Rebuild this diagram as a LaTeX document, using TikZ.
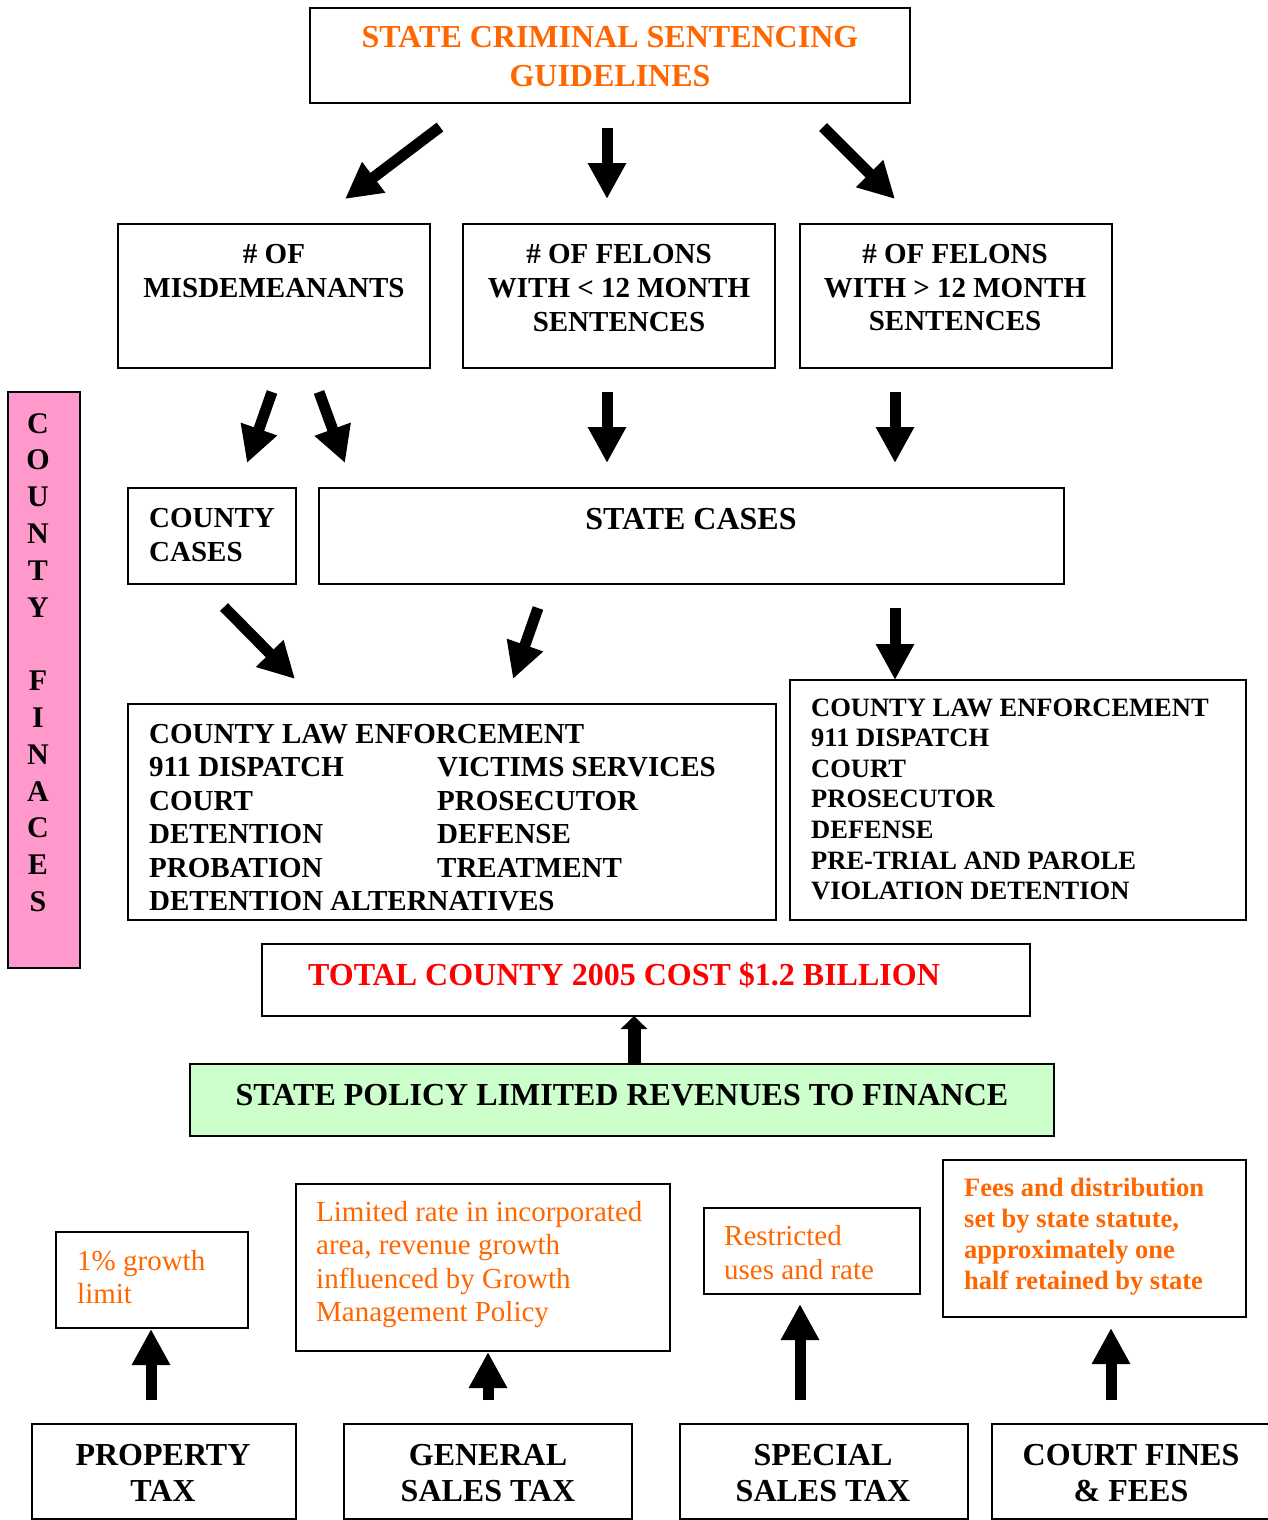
\documentclass[tikz,border=0pt]{standalone}
\usepackage{fontspec}
\setmainfont{Liberation Serif}
\usetikzlibrary{arrows.meta}
\definecolor{orng}{HTML}{FF6600}
\definecolor{pinkbar}{HTML}{FF99CC}
\definecolor{lgreen}{HTML}{CCFFCC}
\definecolor{redtxt}{HTML}{FF0000}
\begin{document}
\begin{tikzpicture}[x=1pt,y=-1pt,
  box/.style={draw, line width=2pt, anchor=north west, inner sep=0pt, outer sep=0pt},
  tb/.style={font=\fontsize{29}{34}\selectfont\bfseries, inner sep=0pt, anchor=base},
  tbl/.style={tb, anchor=base west},
  tB/.style={font=\fontsize{32}{38}\selectfont\bfseries, inner sep=0pt, anchor=base},
  tp/.style={font=\fontsize{30}{36}\selectfont\bfseries, inner sep=0pt, anchor=base},
  ts/.style={font=\fontsize{26.5}{31}\selectfont\bfseries, inner sep=0pt, anchor=base west},
  tr/.style={font=\fontsize{29}{34}\selectfont, text=orng, inner sep=0pt, anchor=base west},
  fat/.style={line width=11pt, -{Triangle[length=36pt,width=36pt]}},
  small/.style={line width=13pt, -{Triangle[length=13pt,width=26pt]}},
]
\useasboundingbox (0,0) rectangle (1268,1520);

% ---------- boxes ----------
\node[box, minimum width=600pt, minimum height=95pt] (top) at (310,8) {};
\node[box, minimum width=312pt, minimum height=144pt] (misd) at (118,224) {};
\node[box, minimum width=312pt, minimum height=144pt] (fel1) at (463,224) {};
\node[box, minimum width=312pt, minimum height=144pt] (fel2) at (800,224) {};
\node[box, fill=pinkbar, minimum width=72pt, minimum height=576pt] (pink) at (8,392) {};
\node[box, minimum width=168pt, minimum height=96pt] (cc) at (128,488) {};
\node[box, minimum width=745pt, minimum height=96pt] (sc) at (319,488) {};
\node[box, minimum width=648pt, minimum height=216pt] (lbox) at (128,704) {};
\node[box, minimum width=456pt, minimum height=240pt] (rbox) at (790,680) {};
\node[box, minimum width=768pt, minimum height=72pt] (total) at (262,944) {};
\node[box, fill=lgreen, minimum width=864pt, minimum height=72pt] (green) at (190,1064) {};
\node[box, minimum width=192pt, minimum height=96pt] (o1) at (56,1232) {};
\node[box, minimum width=374pt, minimum height=167pt] (o2) at (296,1184) {};
\node[box, minimum width=216pt, minimum height=86pt] (o3) at (704,1208) {};
\node[box, minimum width=303pt, minimum height=157pt] (o4) at (943,1160) {};
\node[box, minimum width=264pt, minimum height=95pt] (b1) at (32,1424) {};
\node[box, minimum width=288pt, minimum height=95pt] (b2) at (344,1424) {};
\node[box, minimum width=288pt, minimum height=95pt] (b3) at (680,1424) {};
\node[box, minimum width=283pt, minimum height=95pt] (b4) at (992,1424) {};

% ---------- texts ----------
\node[tB, text=orng] (t1) at (610,48) {STATE CRIMINAL SENTENCING};
\node[tB, text=orng] (t2) at (610,86) {GUIDELINES};

\node[tb] (ms1) at (274,263) {\# OF};
\node[tb] (ms2) at (274,297) {MISDEMEANANTS};

\node[tb] (fa1) at (619,263) {\# OF FELONS};
\node[tb] (fa2) at (619,297) {WITH < 12 MONTH};
\node[tb] (fa3) at (619,331) {SENTENCES};

\node[tb] (fb1) at (955,263) {\# OF FELONS};
\node[tb] (fb2) at (955,297) {WITH > 12 MONTH};
\node[tb] (fb3) at (955,330) {SENTENCES};

\foreach \l [count=\i from 0] in {C,O,U,N,T,Y,,F,I,N,A,C,E,S}
  \node[tp] (cf\i) at (38,{433+\i*36.8}) {\l};

\node[tbl] (cc1) at (149,527) {COUNTY};
\node[tbl] (cc2) at (149,561) {CASES};
\node[tB] (sc1) at (691,529) {STATE CASES};

\foreach \t [count=\i from 0] in {COUNTY LAW ENFORCEMENT,911 DISPATCH,COURT,DETENTION,PROBATION,DETENTION ALTERNATIVES}
  \node[tbl] (l\i) at (149,{743+\i*33.5}) {\t};
\foreach \t [count=\i from 1] in {VICTIMS SERVICES,PROSECUTOR,DEFENSE,TREATMENT}
  \node[tbl] (m\i) at (437,{743+\i*33.5}) {\t};

\foreach \t [count=\i from 0] in {COUNTY LAW ENFORCEMENT,911 DISPATCH,COURT,PROSECUTOR,DEFENSE,PRE-TRIAL AND PAROLE,VIOLATION DETENTION}
  \node[ts] (r\i) at (811,{716+\i*30.6}) {\t};

\node[tB, text=redtxt] (tt) at (624,985) {TOTAL COUNTY 2005 COST \$1.2 BILLION};
\node[tB] (gt) at (622,1105) {STATE POLICY LIMITED REVENUES TO FINANCE};

\node[tr] (p1) at (77,1270) {1\% growth};
\node[tr] (p2) at (77,1303) {limit};
\foreach \t [count=\i from 0] in {Limited rate in incorporated,{area, revenue growth},influenced by Growth,Management Policy}
  \node[tr] (g\i) at (316,{1221+\i*33.6}) {\t};
\node[tr] (s1) at (724,1245) {Restricted};
\node[tr] (s2) at (724,1279) {uses and rate};
\foreach \t [count=\i from 0] in {Fees and distribution,{set by state statute,},approximately one,half retained by state}
  \node[ts, text=orng] (f\i) at (964,{1196+\i*31}) {\t};

\node[tB] (bt1) at (163,1465) {PROPERTY};
\node[tB] (bt2) at (163,1501) {TAX};
\node[tB] (bt3) at (488,1465) {GENERAL};
\node[tB] (bt4) at (488,1501) {SALES TAX};
\node[tB] (bt5) at (823,1465) {SPECIAL};
\node[tB] (bt6) at (823,1501) {SALES TAX};
\node[tB] (bt7) at (1131,1465) {COURT FINES};
\node[tB] (bt8) at (1131,1501) {\& FEES};

% ---------- arrow end points ----------
\coordinate (a1s) at (440,127);  \coordinate (a1e) at (345,199);
\coordinate (a2s) at (607,128);  \coordinate (a2e) at (607,199);
\coordinate (a3s) at (823,127);  \coordinate (a3e) at (895,199);
\coordinate (a4s) at (272,392);  \coordinate (a4e) at (247,463);
\coordinate (a5s) at (319,392);  \coordinate (a5e) at (345,463);
\coordinate (a6s) at (607,392);  \coordinate (a6e) at (607,463);
\coordinate (a7s) at (895,392);  \coordinate (a7e) at (895,463);
\coordinate (a8s) at (224,607);  \coordinate (a8e) at (295,679);
\coordinate (a9s) at (538,608);  \coordinate (a9e) at (513,679);
\coordinate (a10s) at (895,608); \coordinate (a10e) at (895,680);
\coordinate (gs) at (634,1064);  \coordinate (ge) at (634,1016);
\coordinate (u1s) at (151,1400); \coordinate (u1e) at (151,1329);
\coordinate (u2s) at (488,1400); \coordinate (u2e) at (488,1352);
\coordinate (u3s) at (800,1400); \coordinate (u3e) at (800,1304);
\coordinate (u4s) at (1111,1400); \coordinate (u4e) at (1111,1328);

\foreach \n in {a1,a2,a3,a4,a5,a6,a7,a8,a9,a10,u1,u2,u3,u4}
  \draw[fat] (\n s) -- (\n e);
\draw[small] (gs) -- (ge);
\end{tikzpicture}
\end{document}
